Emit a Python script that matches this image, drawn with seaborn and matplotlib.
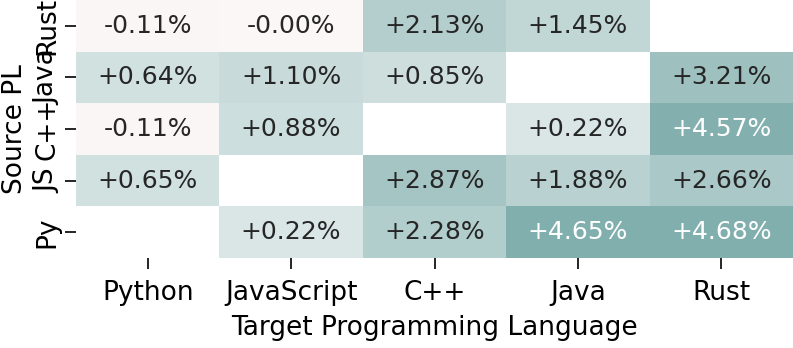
import numpy as np
import pandas as pd
import seaborn as sns
import matplotlib
matplotlib.use("Agg")
import matplotlib.pyplot as plt
from matplotlib.colors import LinearSegmentedColormap

sources = ["Rust", "Java", "C++", "JS", "Py"]
targets = ["Python", "JavaScript", "C++", "Java", "Rust"]
row_rust = [-0.11, -0.001, 2.13, 1.45, np.nan]
row_java = [0.64, 1.10, 0.85, np.nan, 3.21]
row_cpp = [-0.11, 0.88, np.nan, 0.22, 4.57]
row_js = [0.65, np.nan, 2.87, 1.88, 2.66]
row_py = [np.nan, 0.22, 2.28, 4.65, 4.68]

df = pd.DataFrame([row_rust, row_java, row_cpp, row_js, row_py],
                  index=sources, columns=targets)
annot = df.map(lambda v: "" if pd.isna(v) else f"{v:+.2f}%")

vmax = 4.68
def pos(v):
    return (v + vmax) / (2 * vmax)
def c(r, g, b):
    return (r / 255, g / 255, b / 255)
cmap = LinearSegmentedColormap.from_list("custom", [
    (0.0, c(215, 170, 165)),
    (pos(-0.11), c(250, 246, 245)),
    (pos(0.0), c(250, 247, 246)),
    (pos(0.01), c(222, 233, 232)),
    (1.0, c(129, 175, 174)),
])

fig = plt.figure(figsize=(7.93, 3.48), dpi=100)
ax = fig.add_axes([76 / 793, 1 - 258 / 348, 1 - 76 / 793, 258 / 348])
sns.heatmap(df, annot=annot, fmt="", cmap=cmap, vmin=-vmax, vmax=vmax,
            cbar=False, ax=ax, annot_kws={"fontsize": 18})
ax.tick_params(axis="both", labelsize=19, length=8, width=1.2, colors="black")
ax.tick_params(axis="x", pad=8)
ax.set_yticklabels(sources, rotation=90, va="center")
ax.set_xticklabels(targets, rotation=0)
ax.set_xlabel("Target Programming Language", fontsize=19, labelpad=6)
ax.set_ylabel("Source PL", fontsize=19, labelpad=4)
fig.savefig("out.png", dpi=100)
